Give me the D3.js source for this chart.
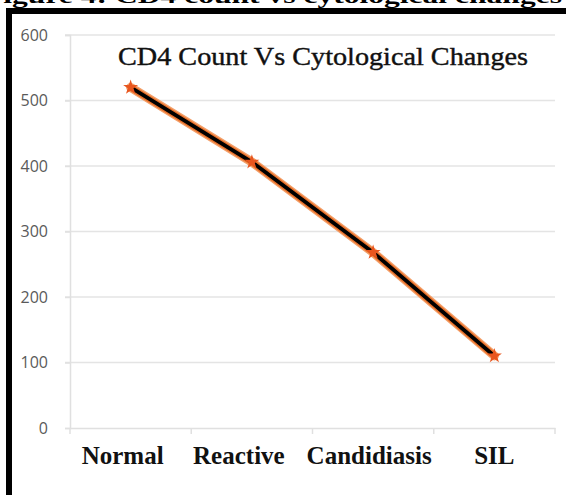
<!DOCTYPE html>
<html>
<head>
<meta charset="utf-8">
<script src="https://cdn.jsdelivr.net/npm/d3@7"></script>
<style>
  html, body { margin: 0; padding: 0; background: #fff; }
  svg { display: block; }
</style>
</head>
<body>
<svg id="chart" width="566" height="495"></svg>
<script>
const categories = ["Normal", "Reactive", "Candidiasis", "SIL"];
const cd4Values = [520, 406, 268, 110];
const yTicks = [0, 100, 200, 300, 400, 500, 600];
const chartTitle = "CD4 Count Vs Cytological Changes";
const captionText = "Figure 4: CD4 count vs cytological changes";

const svg = d3.select("#chart");
const plot = { left: 70, right: 555, top: 35, bottom: 428 };

const x = d3.scaleBand().domain(categories).range([plot.left, plot.right]);
const y = d3.scaleLinear().domain([0, 600]).range([plot.bottom, plot.top]);

// caption of the source figure, cut off by the top edge
svg.append("text")
  .attr("x", -16)
  .attr("y", 3)
  .attr("textLength", 578)
  .attr("lengthAdjust", "spacingAndGlyphs")
  .attr("font-family", "'Liberation Serif', 'Times New Roman', serif")
  .attr("font-weight", "bold")
  .attr("font-size", 22)
  .text(captionText);

// black frame (top and left)
svg.append("rect").attr("x", 6).attr("y", 8).attr("width", 560).attr("height", 6).attr("fill", "#000");
svg.append("rect").attr("x", 6).attr("y", 8).attr("width", 6).attr("height", 487).attr("fill", "#000");

// gridlines
svg.append("g")
  .selectAll("line")
  .data(yTicks.filter((d) => d > 0))
  .join("line")
  .attr("x1", plot.left - 5)
  .attr("x2", plot.right)
  .attr("y1", (d) => y(d))
  .attr("y2", (d) => y(d))
  .attr("stroke", "#e4e4e4")
  .attr("stroke-width", 1.5);

// y axis
const yAxis = svg.append("g")
  .attr("transform", `translate(${plot.left},0)`)
  .call(d3.axisLeft(y).tickValues(yTicks).tickSize(5).tickPadding(17));
yAxis.select(".domain").attr("stroke", "#e0e0e0").attr("stroke-width", 1.5);
yAxis.selectAll(".tick line").attr("stroke", "#e0e0e0").attr("stroke-width", 1.5);
yAxis.selectAll(".tick text")
  .attr("fill", "#5a5a5a")
  .attr("font-family", "'Open Sans', sans-serif")
  .attr("font-size", 16);

// x axis
const xAxis = svg.append("g")
  .attr("transform", `translate(0,${plot.bottom})`)
  .call(d3.axisBottom(x).tickSize(0).tickPadding(18));
xAxis.select(".domain").attr("stroke", "#e0e0e0").attr("stroke-width", 1.5);
xAxis.selectAll(".tick text")
  .attr("fill", "#111")
  .attr("font-family", "'Liberation Serif', 'Times New Roman', serif")
  .attr("font-weight", "bold")
  .attr("font-size", 25)
  .attr("dx", (d, i) => [-8, -13, -4, 0][i]);

// category boundary ticks
svg.append("g")
  .selectAll("line")
  .data(categories.concat(["__end"]))
  .join("line")
  .attr("x1", (d) => (d === "__end" ? plot.right : x(d)))
  .attr("x2", (d) => (d === "__end" ? plot.right : x(d)))
  .attr("y1", plot.bottom)
  .attr("y2", plot.bottom + 6)
  .attr("stroke", "#e0e0e0")
  .attr("stroke-width", 1.5);

// title
svg.append("text")
  .attr("x", 118)
  .attr("y", 65)
  .attr("textLength", 410)
  .attr("lengthAdjust", "spacingAndGlyphs")
  .attr("font-family", "'Liberation Serif', 'Times New Roman', serif")
  .attr("font-size", 25)
  .attr("fill", "#111")
  .attr("stroke", "#111")
  .attr("stroke-width", 0.4)
  .text(chartTitle);

// series line: orange halo with a black core
const points = categories.map((c, i) => ({ c, v: cd4Values[i] }));
const line = d3.line()
  .x((d) => x(d.c) + x.bandwidth() / 2)
  .y((d) => y(d.v));

svg.append("path")
  .datum(points)
  .attr("d", line)
  .attr("fill", "none")
  .attr("stroke", "#f3a06a")
  .attr("stroke-width", 9)
  .attr("stroke-linecap", "round");
svg.append("path")
  .datum(points)
  .attr("d", line)
  .attr("fill", "none")
  .attr("stroke", "#e8702a")
  .attr("stroke-width", 6.5);
svg.append("path")
  .datum(points)
  .attr("d", line)
  .attr("fill", "none")
  .attr("stroke", "#000")
  .attr("stroke-width", 3.8);

// markers
svg.append("g")
  .selectAll("path")
  .data(points)
  .join("path")
  .attr("transform", (d) => `translate(${x(d.c) + x.bandwidth() / 2},${y(d.v)})`)
  .attr("d", d3.symbol().type(d3.symbolStar).size(70))
  .attr("fill", "#e8561f");
</script>
</body>
</html>
